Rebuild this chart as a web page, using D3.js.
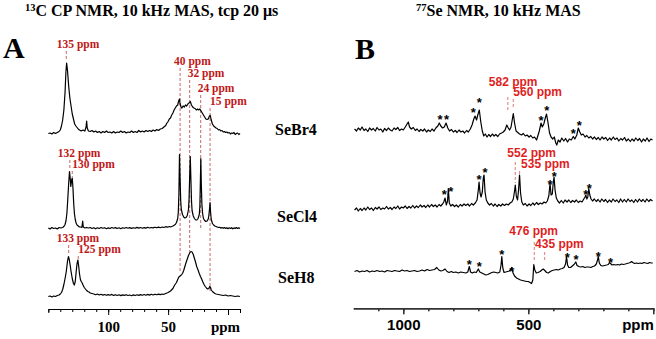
<!DOCTYPE html>
<html>
<head>
<meta charset="utf-8">
<script src="https://cdn.jsdelivr.net/npm/d3@7"></script>
<style>
  body { margin: 0; background: #fff; }
  svg { display: block; }
</style>
</head>
<body>
<svg id="chart" width="656" height="339"></svg>
<script>
// ---------- datos: 13C CP NMR (ppm, intensidad) ----------
const cSeBr4 = [[150,0.5],[148.5,1],[147,0],[145.5,1.5],[144,0.5],[142.5,1.5],[141,2.5],[140,4],[139,8],[138,14],[137,24],[136,42],[135.3,62],[134.7,71],[134,64],[133,48],[132,36],[131,28],[130,20],[129,15],[128,10],[127,8],[126,6.5],[125,5],[124,4],[122.5,3],[121,4],[119.5,3],[118.5,7],[118,13],[117.5,6],[116.5,3],[115,2.5],[113.5,3.5],[112,2],[110.5,3],[109,1.5],[107.5,2.5],[106,1],[104.5,2.5],[103,1.5],[101.5,3],[100,1.5],[98.5,2],[97,1],[95.5,2.5],[94,1],[92.5,2],[91,1.5],[89.5,3],[88,1.5],[86.5,2.5],[85,1],[83.5,2],[82,1.5],[80.5,3],[79,1.5],[77.5,2.5],[76,1.5],[74.5,3.5],[73,2],[71.5,3],[70,2],[68.5,3.5],[67,2.5],[65.5,3.5],[64,2.5],[62.5,4],[61,3],[59.5,4.5],[58,3.5],[56.5,5],[55,5.5],[53.5,7],[52,8.5],[51,11],[50,12.5],[49,15],[48,16],[47,19],[46,21],[45,24],[44,26],[43,28],[42,29],[41.2,33],[40.5,35],[40,30],[39.2,27],[38.5,26],[37.5,28],[36.5,27],[35.5,29],[34.5,28],[33.5,30],[32.5,31],[31.5,32.5],[30.5,29],[29.5,27],[28.5,26],[27.5,25.5],[26.5,24],[25.5,25],[24.5,24],[23.5,25],[22.5,23],[21.5,21],[20.5,19],[19.5,17],[18.5,15],[17.5,14.5],[16.5,15],[15.5,18],[14.8,18.5],[14,14],[13,10],[12,8],[11,7],[10,6],[9,5.5],[8,4],[7,4.5],[6,3],[5,3.5],[4,2],[3,2.5],[2,1.5],[1,2],[0,1],[-1,1.5],[-2,0],[-3,1],[-4,0.5],[-5,1.5],[-6,-0.5],[-7,0.5],[-8,1],[-9,-0.5],[-10,0.5]];

const cSeCl4 = [[150,0.5],[148.5,-0.5],[147,1],[145.5,0],[144,0.5],[142.5,-0.5],[141,1],[139.5,0.5],[138,1],[137,2],[136,4],[135.2,8],[134.5,15],[133.8,28],[133,45],[132.3,57],[131.7,50],[131.2,42],[130.6,48],[130,50.5],[129.4,40],[128.8,25],[128.2,15],[127.5,9],[126.8,5.5],[126,3.5],[125,2.5],[124,1.5],[123,1.5],[122,1],[121.3,7.5],[120.8,1.5],[119.5,0.5],[118,1],[116.5,0.5],[115,1],[113.5,0],[112,0.8],[110.5,-0.3],[109,0.7],[107.5,0],[106,1],[104.5,0.2],[103,0.8],[101.5,-0.2],[100,0.6],[98.5,0],[97,1],[95.5,0.3],[94,0.9],[92.5,0],[91,0.7],[89.5,-0.2],[88,0.8],[86.5,0.2],[85,1],[83.5,0.3],[82,0.9],[80.5,0.1],[79,0.8],[77.5,0.2],[76,1.1],[74.5,0.4],[73,1],[71.5,0.3],[70,0.9],[68.5,0.4],[67,1.2],[65.5,0.5],[64,1],[62.5,0.6],[61,1.3],[59.5,0.7],[58,1.4],[56.5,0.8],[55,1.5],[53.5,1],[52,1.8],[50.5,1.3],[49,2],[48,1.5],[46,2.5],[44,4],[43,6],[42,10],[41.5,16],[41,35],[40.5,74],[40,50],[39.5,28],[39,19],[38,14],[37,11.5],[36,10.5],[35,11],[34,13],[33,19],[32.5,30],[32,52],[31.5,72],[31,50],[30.5,28],[30,18],[29,12.5],[28,10],[27,8.5],[26,8.5],[25,10],[24,14],[23.5,22],[23.1,45],[22.7,70],[22.3,45],[21.8,24],[21.2,15],[20.5,10],[19.5,8],[18.5,7],[17.5,7.5],[16.5,9.5],[16,13],[15.4,20],[15,26],[14.6,17],[14,9],[13,5],[12,3.5],[11,2.5],[10,2],[9,1.5],[8,1],[7,1.2],[6,0.4],[5,1],[4,0.2],[3,0.9],[2,0.1],[1,0.8],[0,-0.2],[-1,0.7],[-2,0],[-3,0.8],[-4,-0.3],[-5,0.6],[-6,0],[-7,0.9],[-8,0.1],[-9,0.6],[-10,0]];

const cSeH8 = [[150,0],[148.5,0.5],[147,-0.5],[145.5,0.5],[144,0],[142.5,1],[141,1.5],[140,2.5],[139,4],[138,7],[137,12],[136,18],[135,25],[134,35],[133.2,40],[132.5,37],[131.7,31],[131,25],[130,18],[129,13],[128.3,11.5],[127.5,15],[126.8,24],[126,33],[125.3,36.5],[124.6,30],[124,23],[123.2,17],[122.5,15],[121.7,13.5],[121,11.5],[120,9],[119,7.5],[118,6],[117,5],[116,4.5],[115,3.5],[113.5,3],[112,2.5],[110.5,1.8],[109,2.5],[107.5,1.5],[106,2.2],[104.5,1.4],[103,2],[101.5,1.2],[100,1.9],[98.5,1.3],[97,2.1],[95.5,1.1],[94,1.8],[92.5,1],[91,1.7],[89.5,0.9],[88,1.6],[86.5,1.1],[85,1.8],[83.5,1],[82,1.5],[80.5,0.8],[79,1.6],[77.5,1],[76,1.7],[74.5,1.1],[73,1.9],[71.5,1.2],[70,2],[68.5,1.3],[67,2.1],[65.5,1.4],[64,2.2],[62.5,1.5],[61,2.3],[59.5,1.7],[58,2.4],[56.5,1.9],[55,2.5],[54,2],[52,3],[50,4],[48,5.5],[46,8],[44.5,11.5],[43,14],[42,17],[41,19.5],[40,20.5],[39,21.5],[38,23],[37,26],[36,30],[35,34],[34,37.5],[33,41],[32,43.5],[31,45],[30,44.5],[29,42],[28,38],[27,34],[26,29.5],[25,26.5],[24,23],[23,20],[22,17.5],[21,14.5],[20,12],[19,10],[18,8.5],[17,7.5],[16,8],[15.3,10],[14.6,9],[14,6.5],[13,5],[12,4],[11,3],[10,2.5],[8,2],[6,1.5],[4,1],[2,1.5],[0,0.5],[-2,1],[-4,0.5],[-6,0],[-8,0.5],[-10,0]];

// ---------- datos: 77Se NMR (ppm, intensidad) ----------
const seSeBr4 = [[1195,11],[1187,9],[1180,12],[1172,10],[1165,13],[1157,9.5],[1150,11],[1142,8.5],[1135,12],[1127,10],[1120,11.5],[1112,9],[1105,12.5],[1097,10],[1090,11],[1082,8],[1075,11.5],[1067,9.5],[1060,12],[1052,10],[1045,9],[1037,12],[1030,10.5],[1022,12.5],[1015,9.5],[1007,11],[1000,10],[992,13],[985,16],[980,18],[975,13],[968,11],[960,12.5],[952,9.5],[945,11],[937,8.5],[930,10.5],[922,9],[915,11],[907,8],[900,10],[892,8.5],[885,11],[877,9],[870,12],[862,14],[856,17],[850,14],[843,12],[836,13],[829,17],[822,12],[815,9],[807,10.5],[800,8],[792,9.5],[785,7.5],[777,10],[770,8],[762,9],[755,7],[747,9.5],[740,8],[732,11],[725,15],[718,21],[713,24],[707,20],[702,25],[696,30],[690,18],[684,9],[678,4],[672,6],[665,3],[658,5.5],[651,3.5],[644,6],[637,4],[630,5.5],[622,3.5],[615,6],[607,7],[600,8],[593,10],[586,15],[580,12],[575,10],[569,13],[563,22],[560,26.5],[555,17],[549,9],[542,7.5],[535,6],[527,5],[520,6.5],[512,4],[505,5],[497,3],[490,4.5],[482,2],[475,3],[467,0],[462,4],[456,9],[449,17],[444,13],[438,16],[432,22],[427,26],[421,17],[415,7],[409,3],[402,1],[396,3],[390,-3],[386,-5],[380,0],[373,-2],[366,2],[358,-1],[351,1.5],[343,-2],[336,1],[328,0],[320,3.5],[314,1],[306,5],[300,12],[294,8],[288,5],[281,6],[273,3],[266,4.5],[258,2],[250,3.5],[243,1],[235,3],[228,0.5],[220,2.5],[213,0],[205,3],[198,1],[190,2.5],[183,-0.5],[175,2],[168,0],[160,3],[153,0.5],[145,2],[138,-1],[130,1.5],[123,0],[115,2.5],[108,-1],[100,1],[92,-1.5],[85,1],[77,-1],[70,2],[62,-0.5],[55,1.5],[47,-2],[40,1],[32,-1],[25,2],[17,-1.5],[10,1],[3,0]];

const seSeCl4 = [[1195,2],[1187,4],[1180,1],[1172,3.5],[1165,1.5],[1157,4],[1150,2],[1142,5],[1135,2.5],[1127,4],[1120,1.5],[1112,4.5],[1105,3],[1097,5],[1090,2.5],[1082,4],[1075,3],[1067,5.5],[1060,3],[1052,4.5],[1045,2.5],[1037,5],[1030,3.5],[1022,6],[1015,3],[1007,5],[1000,4],[992,6],[985,3.5],[977,5.5],[970,4],[962,6.5],[955,4],[947,6],[940,4.5],[932,7],[925,5],[917,6.5],[910,4.5],[902,7],[895,5],[887,7.5],[880,5.5],[872,7],[865,5],[857,7.5],[850,6],[843,8],[838,10],[833,14],[828,7],[823,11],[820,23.5],[816,9],[810,6],[803,7.5],[795,5.5],[788,7],[780,5],[772,7.5],[765,6],[757,8],[750,6.5],[742,8],[735,6],[727,8.5],[720,7],[712,9],[705,12],[700,22],[697,30],[693,19],[689,15],[684,20],[680,34],[677,37],[673,20],[668,12],[662,9],[655,7],[648,8.5],[640,6],[633,8],[625,5.5],[618,7.5],[610,6],[603,8],[595,6.5],[588,8],[580,7],[573,9],[566,10],[560,13],[555,21],[552,27],[548,16],[543,12],[539,22],[535,37],[531,19],[526,10],[520,7],[512,8.5],[505,6],[497,8],[490,6.5],[482,9],[475,7],[467,9.5],[460,7.5],[452,9],[445,8],[437,10],[430,9],[424,11],[418,16],[413,28.5],[409,17],[404,18],[400,30],[397,35],[393,22],[388,14],[382,11],[375,9],[368,11.5],[360,9],[353,12],[345,10],[338,12],[330,9.5],[323,11.5],[315,10],[308,12],[300,9.5],[293,11],[285,10],[278,13],[273,15],[270,17],[266,13],[262,15],[258,23.5],[254,17],[249,13],[243,11],[236,13],[228,10.5],[221,12.5],[213,10],[206,13],[198,10.5],[191,12.5],[183,9.5],[176,12],[168,10],[161,13],[153,10.5],[146,12],[138,9.5],[131,13],[123,10],[116,12.5],[108,10],[101,13],[93,10.5],[86,12],[78,9.5],[71,12.5],[63,10],[56,13],[48,10.5],[41,12.5],[33,10],[26,13],[18,10.5],[11,12.5],[3,11]];

const seSeH8 = [[1195,13.5],[1185,14.5],[1175,13],[1165,14],[1155,13.5],[1145,14.5],[1135,13],[1125,14],[1115,13.5],[1105,14.5],[1095,13.5],[1085,14],[1075,13],[1065,14.5],[1055,14],[1045,13.5],[1035,14.5],[1025,14],[1015,13.5],[1005,15],[995,14],[985,14.5],[975,13.5],[965,14],[955,14.5],[945,13.5],[935,14],[925,15],[915,14],[905,15.5],[895,14.5],[885,15],[875,15.5],[866,17.5],[858,15],[850,14],[842,14.5],[833,16],[825,13.5],[817,12.5],[808,13.5],[800,12.5],[790,13],[780,12],[770,13],[760,12.5],[750,12],[742,13],[736,18.5],[731,13],[724,12],[716,13],[708,12.5],[700,16],[694,13],[686,12],[678,11],[670,10],[662,10.5],[654,11.5],[646,12.5],[638,13],[630,12.5],[622,12],[614,13],[609,20],[606,28.5],[602,17],[597,12.5],[590,13],[583,13.5],[576,14],[570,15.5],[566,17.5],[561,12],[555,9],[547,7],[539,6],[531,5],[523,4.5],[515,4],[507,3.5],[500,3.5],[493,2.5],[487,1.5],[482,5],[478,20.5],[474,15],[468,12],[461,12.5],[453,13.5],[446,15],[440,16],[434,14.5],[427,12.5],[420,12],[412,13.5],[404,14.5],[396,15],[388,15.5],[380,15],[372,16],[364,16.5],[357,17.5],[351,21],[347,28.5],[343,20],[338,17.5],[331,17.5],[324,19],[317,20.5],[310,23],[305,19.5],[298,18.5],[290,18],[282,18.5],[274,17.5],[266,18],[258,18],[250,17.5],[242,18.5],[235,19],[228,21],[223,25],[220,28.5],[216,22],[210,19.5],[203,19],[195,19.5],[187,20],[180,20.5],[175,22.5],[171,21.5],[165,20],[158,20.5],[150,20],[142,20.5],[135,20],[127,21],[120,20.5],[112,21],[105,21.5],[98,22],[92,22.5],[87,23.5],[82,22.5],[75,21.5],[68,22],[60,21.5],[52,22],[45,21.5],[38,22.5],[30,22],[22,21.5],[15,22.5],[8,22],[2,22]];

// bandas laterales (*): [ppm, altura]
const starsSeBr4 = [[853,24],[827,24],[720,31],[696,40.5],[449,22.5],[426,33],[320,10],[296,17.7]];
const starsSeCl4 = [[836,20.3],[810,23.7],[697,35.3],[673,42.7],[413,31],[396,38.7],[270,20.3],[256,26.3]];
const starsSeH8 = [[736,24],[696,21.7],[606,33.3],[566,16.7],[344,31],[309,28.3],[220,31.7],[171,25.7]];

// picos marcados
const cPeakPpm = [135, 40, 32, 22.8, 15, 132, 130, 133, 125];
const cPeakText = ["135 ppm", "40 ppm", "32 ppm", "24 ppm", "15 ppm", "132 ppm", "130 ppm", "133 ppm", "125 ppm"];
const sePeakPpm = [582, 560, 552, 535, 476, 435];
const sePeakText = ["582 ppm", "560 ppm", "552 ppm", "535 ppm", "476 ppm", "435 ppm"];

const sampleNames = ["SeBr4", "SeCl4", "SeH8"];

// ejes
const cMinorTicks = [150, 140, 130, 120, 110, 100, 90, 80, 70, 60, 50, 40, 30, 20, 10, 0, -10];
const cMajorTicks = [100, 50, 0];
const seMinorTicks = [1100, 1000, 900, 800, 700, 600, 500, 400, 300, 200, 100, 0];
const seMajorTicks = [1000, 500, 0];

// ---------- layout ----------
const svg = d3.select("#chart");
const xC = d3.scaleLinear().domain([150, -10]).range([48.3, 240]);
const xSe = d3.scaleLinear().domain([1200, 0]).range([353.3, 653.3]);
const cBase = [134, 228.5, 296.5];
const seBase = [140, 212, 285];

// etiquetas: [dx desde la línea, y texto, y1 línea, y2 línea]
const cLabelPos = [[-9.5, 48, 51, 61], [-6, 65, 68, 272], [-2, 77, 80, 253], [-3, 92, 95, 228], [0, 105, 108, 292],
                   [-12, 157, 160, 169], [0, 168, 171, 177], [-12, 242, 245, 255], [0, 253, 256, 259]];
const seLabelPos = [[-19, 86, 97, 110], [0, 96, 99, 107], [-8, 157, 162, 183], [1.5, 168, 171, 183],
                    [-25, 235, 242, 262], [-9.5, 248, 252, 262]];

const serif = "'Liberation Serif', 'Times New Roman', serif";
const sans = "'Liberation Sans', Arial, Helvetica, sans-serif";

function yFor(base) {
  return d3.scaleLinear().domain([0, 100]).range([base, base - 100]);
}

function drawTrace(x, base, data) {
  const y = yFor(base);
  const line = d3.line().x(d => x(d[0])).y(d => y(d[1]));
  svg.append("path")
    .datum(data)
    .attr("d", line)
    .attr("fill", "none")
    .attr("stroke", "#000")
    .attr("stroke-width", 1.2)
    .attr("stroke-linejoin", "round");
}

function drawStars(base, stars) {
  const y = yFor(base);
  svg.append("g").selectAll("text")
    .data(stars)
    .enter()
    .append("text")
    .attr("x", d => xSe(d[0]))
    .attr("y", d => y(d[1]) + 7.5)
    .attr("text-anchor", "middle")
    .attr("font-family", sans)
    .attr("font-weight", "bold")
    .attr("font-size", 13)
    .text("*");
}

// Títulos
const t1 = svg.append("text")
  .attr("x", 25).attr("y", 16)
  .attr("font-family", serif).attr("font-weight", "bold").attr("font-size", 16);
t1.append("tspan").attr("font-size", 10.5).attr("dy", -5).text("13");
t1.append("tspan").attr("dy", 5).text("C CP NMR, 10 kHz MAS, tcp 20 μs");

const t2 = svg.append("text")
  .attr("x", 416).attr("y", 16)
  .attr("font-family", serif).attr("font-weight", "bold").attr("font-size", 16);
t2.append("tspan").attr("font-size", 10.5).attr("dy", -5).text("77");
t2.append("tspan").attr("dy", 5).text("Se NMR, 10 kHz MAS");

svg.append("text").attr("x", 3).attr("y", 58)
  .attr("font-family", serif).attr("font-weight", "bold").attr("font-size", 30).text("A");
svg.append("text").attr("x", 355).attr("y", 59)
  .attr("font-family", serif).attr("font-weight", "bold").attr("font-size", 30).text("B");

// líneas de referencia (debajo de los espectros)
cPeakPpm.forEach((p, i) => {
  const [dx, ty, y1, y2] = cLabelPos[i];
  svg.append("line")
    .attr("x1", xC(p)).attr("x2", xC(p))
    .attr("y1", y1).attr("y2", y2)
    .attr("stroke", "#b84040")
    .attr("stroke-width", 0.8)
    .attr("stroke-dasharray", "3,2");
  svg.append("text")
    .attr("x", xC(p) + dx).attr("y", ty)
    .attr("font-family", serif).attr("font-weight", "bold").attr("font-size", 11.5)
    .attr("fill", "#c01818")
    .text(cPeakText[i]);
});

sePeakPpm.forEach((p, i) => {
  const [dx, ty, y1, y2] = seLabelPos[i];
  svg.append("line")
    .attr("x1", xSe(p)).attr("x2", xSe(p))
    .attr("y1", y1).attr("y2", y2)
    .attr("stroke", "#e09090")
    .attr("stroke-width", 1.2)
    .attr("stroke-dasharray", "3,2");
  svg.append("text")
    .attr("x", xSe(p) + dx).attr("y", ty)
    .attr("font-family", sans).attr("font-weight", "bold").attr("font-size", 12)
    .attr("fill", "#e01e1e")
    .text(sePeakText[i]);
});

// espectros
[cSeBr4, cSeCl4, cSeH8].forEach((d, i) => drawTrace(xC, cBase[i], d));
[seSeBr4, seSeCl4, seSeH8].forEach((d, i) => drawTrace(xSe, seBase[i], d));
drawStars(seBase[0], starsSeBr4);
drawStars(seBase[1], starsSeCl4);
drawStars(seBase[2], starsSeH8);

// nombres de muestra
const namePos = [[275, 135], [277, 222], [278, 283]];
sampleNames.forEach((n, i) => {
  svg.append("text")
    .attr("x", namePos[i][0]).attr("y", namePos[i][1])
    .attr("font-family", serif).attr("font-weight", "bold").attr("font-size", 16)
    .text(n);
});

// eje 13C
const gC = svg.append("g").attr("transform", "translate(0,309)");
gC.call(d3.axisBottom(xC).tickValues(cMinorTicks).tickSize(3).tickSizeOuter(4).tickFormat(""));
gC.append("g").call(d3.axisBottom(xC).tickValues(cMajorTicks).tickSize(6).tickSizeOuter(0)
  .tickFormat(d => d === 0 ? "ppm" : d));
gC.selectAll("path, line").attr("stroke", "#000").attr("stroke-width", 1);
gC.selectAll("text")
  .attr("font-family", serif).attr("font-weight", "bold").attr("font-size", 15)
  .attr("fill", "#000").attr("y", 23).attr("dy", 0);
gC.selectAll("text").filter(d => d === 0).attr("dx", -3);

// eje 77Se
const gSe = svg.append("g").attr("transform", "translate(0,308.3)");
gSe.call(d3.axisBottom(xSe).tickValues(seMinorTicks).tickSize(3).tickSizeOuter(0).tickFormat(""));
gSe.append("g").call(d3.axisBottom(xSe).tickValues(seMajorTicks).tickSize(6).tickSizeOuter(0)
  .tickFormat(d => d === 0 ? "ppm" : d));
gSe.selectAll("path, line").attr("stroke", "#333").attr("stroke-width", 1.6);
gSe.selectAll("text")
  .attr("font-family", sans).attr("font-weight", "bold").attr("font-size", 15)
  .attr("fill", "#000").attr("y", 22).attr("dy", 0);
gSe.selectAll("text").filter(d => d === 0).attr("text-anchor", "end");
</script>
</body>
</html>
